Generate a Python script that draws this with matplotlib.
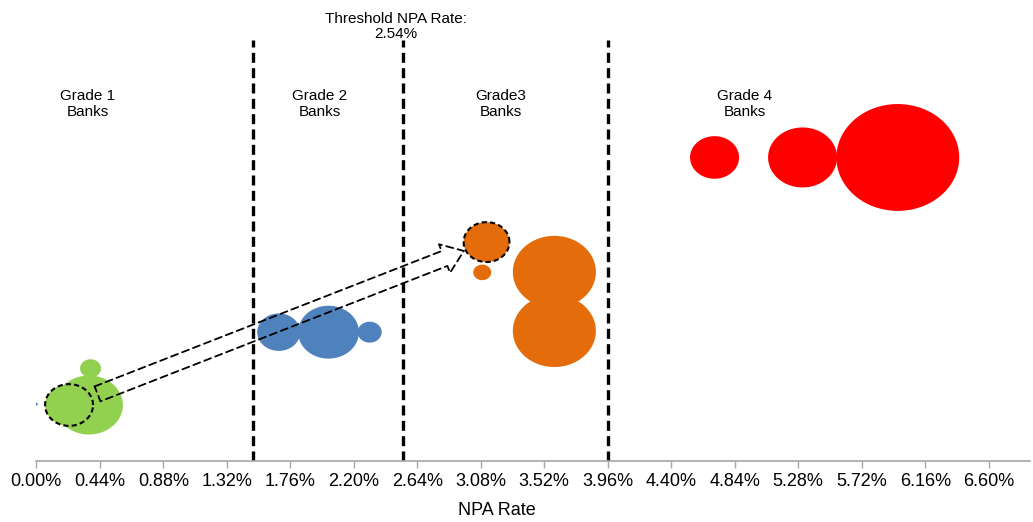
import numpy as np
import matplotlib.pyplot as plt
from matplotlib.path import Path
from matplotlib.patches import FancyArrowPatch, ArrowStyle

plt.rcParams['font.family'] = ['Liberation Sans', 'DejaVu Sans']

# bubbles: NPA rate (%), vertical position, bubble value
grade1_npa = [0.365, 0.376]
grade1_pos = [13.3, 22.0]
grade1_val = [46, 4.4]

grade2_npa = [0.0, 1.68, 2.025, 2.31]
grade2_pos = [13.5, 30.6, 30.6, 30.6]
grade2_val = [0.1, 18.5, 37, 5.8]

grade3_npa = [3.09, 3.59, 3.59]
grade3_pos = [44.8, 44.9, 30.9]
grade3_val = [3.2, 69, 69]

grade4_npa = [4.70, 5.31, 5.97]
grade4_pos = [72.1, 72.1, 72.1]
grade4_val = [24, 47.6, 151]

# the bank that moves from grade 1 to grade 3
moved_npa = [0.227, 3.12]
moved_pos = [13.3, 52.0]
moved_val = [23, 21]

grade_cutoffs = [1.50, 2.54, 3.96]
threshold = 2.54

grade_labels = ['Grade 1\nBanks', 'Grade 2\nBanks', 'Grade3\nBanks', 'Grade 4\nBanks']
label_npa = [0.358, 1.966, 3.22, 4.91]

green = '#92D050'
blue = '#4F81BD'
orange = '#E46C0A'
red = '#FF0000'

fig = plt.figure(figsize=(10.33, 5.22), dpi=100)
ax = fig.add_axes([36.3 / 1033, 61 / 522, 993.7 / 1033, 421 / 522])
ax.set_xlim(0, 6.886)
ax.set_ylim(0, 100)

# slightly wide oval marker
t = np.linspace(0, 2 * np.pi, 120)
oval = Path(np.column_stack([1.15 * np.cos(t), np.sin(t)]))

def area(vals):
    return np.array(vals) * 51.84

ax.scatter(grade1_npa, grade1_pos, s=area(grade1_val), marker=oval, color=green, linewidths=0)
ax.scatter(grade2_npa, grade2_pos, s=area(grade2_val), marker=oval, color=blue, linewidths=0)
ax.scatter(grade3_npa, grade3_pos, s=area(grade3_val), marker=oval, color=orange, linewidths=0)
ax.scatter(grade4_npa, grade4_pos, s=area(grade4_val), marker=oval, color=red, linewidths=0)
ax.scatter(moved_npa, moved_pos, s=area(moved_val), marker=oval, c=[green, orange],
           edgecolors='black', linewidths=1.5, linestyles=(0, (2.5, 1.5)), zorder=3)

for xc in grade_cutoffs:
    ax.axvline(xc, color='black', lw=2.4, linestyle=(0, (3, 1.6)), zorder=2)

arrow = FancyArrowPatch((moved_npa[0], moved_pos[0]), (moved_npa[1], moved_pos[1]),
                        arrowstyle=ArrowStyle.Simple(head_length=15, head_width=22, tail_width=11.5),
                        mutation_scale=1, shrinkA=22, shrinkB=17.5, fill=False,
                        edgecolor='black', lw=1.3, linestyle=(0, (4, 2.5)), zorder=4)
ax.add_patch(arrow)

for txt, xc in zip(grade_labels, label_npa):
    ax.text(xc, 84.8, txt, ha='center', va='center', fontsize=11, linespacing=1.2)

ax.text(threshold - 0.05, 103.3, 'Threshold NPA Rate:\n{:.2f}%'.format(threshold),
        ha='center', va='center', fontsize=11, linespacing=1.1, clip_on=False)

ticks = np.arange(0, 6.61, 0.44)
ax.set_xticks(ticks)
ax.set_xticklabels(['{:.2f}%'.format(v) for v in ticks])
ax.tick_params(axis='x', colors='#A6A6A6', labelcolor='black', labelsize=13,
               length=5, width=1, pad=4)
ax.set_yticks([])
for side in ['left', 'right', 'top']:
    ax.spines[side].set_visible(False)
ax.spines['bottom'].set_color('#A6A6A6')
ax.spines['bottom'].set_linewidth(1.2)

ax.set_xlabel('NPA Rate', fontsize=13)
ax.xaxis.set_label_coords(0.4636, -0.097)

fig.savefig('out.png', dpi=100)
